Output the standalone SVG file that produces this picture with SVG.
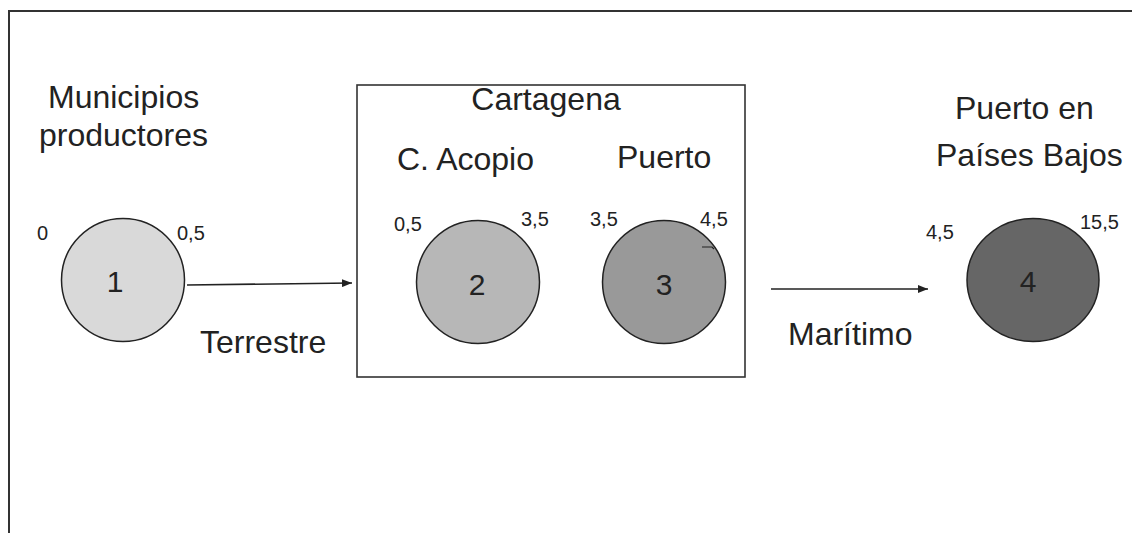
<svg xmlns="http://www.w3.org/2000/svg" width="1132" height="533" viewBox="0 0 1132 533">
<defs>
<style>
.t{font-family:"Liberation Sans",Arial,sans-serif;fill:#222;}
.big{font-size:32px;}
.num{font-size:20px;}
.dig{font-size:30px;text-anchor:middle;}
.node{stroke:#222;stroke-width:1.5;}
.edge{stroke:#222;stroke-width:1.6;fill:none;}
</style>
<marker id="arr" viewBox="0 0 10 8" refX="10" refY="4" markerWidth="10" markerHeight="8" markerUnits="userSpaceOnUse" orient="auto">
<path d="M0,0 L10,4 L0,8 Z" fill="#222"/>
</marker>
</defs>
<rect width="1132" height="533" fill="#fff"/>
<path d="M9,533 V11 H1132" fill="none" stroke="#333" stroke-width="2"/>

<g id="node-cartagena">
<rect x="357" y="85" width="388" height="292" fill="none" stroke="#333" stroke-width="1.6"/>
<text class="t big" x="546" y="110" text-anchor="middle">Cartagena</text>
<text class="t big" x="397" y="170">C. Acopio</text>
<text class="t big" x="617" y="168">Puerto</text>
</g>

<g id="node-1">
<text class="t big" x="48" y="108">Municipios</text>
<text class="t big" x="39" y="146">productores</text>
<circle class="node" cx="123" cy="280" r="61.5" fill="#d9d9d9"/>
<text class="t dig" x="115" y="292">1</text>
<text class="t num" x="37" y="240">0</text>
<text class="t num" x="177" y="240">0,5</text>
</g>

<g id="node-2">
<circle class="node" cx="478" cy="282" r="61.5" fill="#b7b7b7"/>
<text class="t dig" x="477" y="295">2</text>
<text class="t num" x="394" y="231">0,5</text>
<text class="t num" x="521" y="226">3,5</text>
</g>

<g id="node-3">
<circle class="node" cx="664" cy="282" r="61.5" fill="#999999"/>
<text class="t dig" x="664" y="295">3</text>
<text class="t num" x="590" y="226">3,5</text>
<text class="t num" x="700" y="226">4,5</text>
<path d="M702,247 H712 L714,249" fill="none" stroke="#222" stroke-width="1.2"/>
</g>

<g id="node-4">
<text class="t big" x="955" y="119">Puerto en</text>
<text class="t big" x="936" y="166">Países Bajos</text>
<ellipse class="node" cx="1033" cy="280" rx="66" ry="61.5" fill="#666666"/>
<text class="t dig" x="1028" y="292">4</text>
<text class="t num" x="926" y="239">4,5</text>
<text class="t num" x="1080" y="229">15,5</text>
</g>

<g id="connectors">
<line class="edge" x1="187" y1="285" x2="352" y2="283" marker-end="url(#arr)"/>
<text class="t big" x="200" y="353">Terrestre</text>
<line class="edge" x1="771" y1="289" x2="928" y2="289" marker-end="url(#arr)"/>
<text class="t big" x="788" y="345">Marítimo</text>
</g>
</svg>
